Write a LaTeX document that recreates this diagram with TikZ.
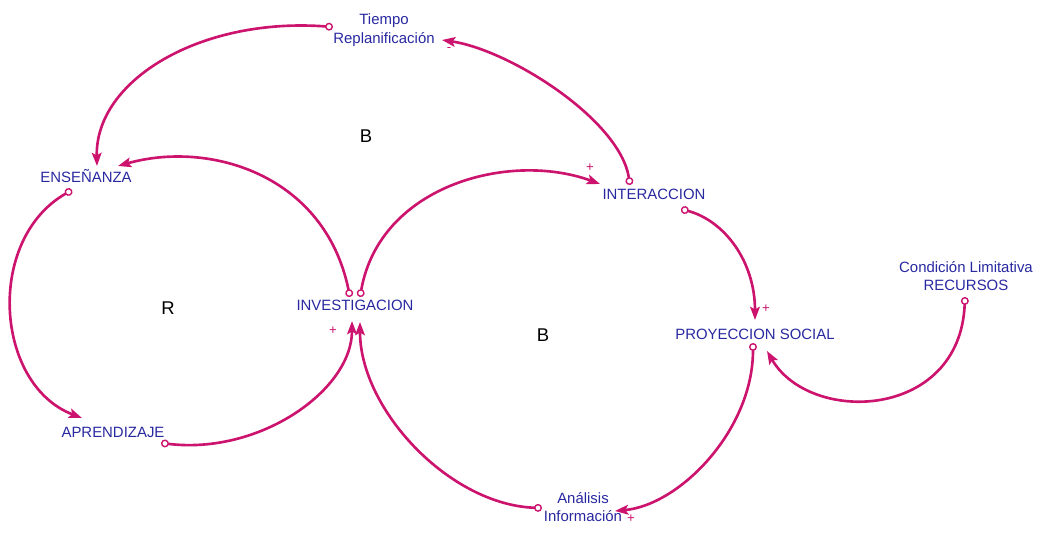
\documentclass[tikz,border=0pt]{standalone}
\usepackage{fontspec}
\setmainfont{Liberation Sans}
\usetikzlibrary{arrows.meta}
\definecolor{linkpink}{RGB}{204,20,110}
\definecolor{varblue}{RGB}{40,40,160}

\begin{document}
\begin{tikzpicture}[
  x=0.02cm, y=-0.02cm,
  font=\fontsize{8.5}{10.5}\selectfont,
  var/.style={text=varblue, align=center, inner sep=0pt},
  loopname/.style={font=\fontsize{10.5}{12}\selectfont, inner sep=0pt},
  sign/.style={text=linkpink, font=\fontsize{7.5}{8}\selectfont, inner sep=0pt},
  link/.style={draw=linkpink, line width=1.5pt,
    {Circle[open,length=4.5pt,width=4.5pt,line width=0.8pt]}-{Stealth[length=7.5pt,width=5.5pt,inset=1.5pt]}}
]
\path[use as bounding box] (0,0) rectangle (1042,533);

% variables
\node[var] (tr) at (384,30) {Tiempo\\Replanificación};
\node[var] (ens) at (86,176) {ENSEÑANZA};
\node[var] (inv) at (355,305) {INVESTIGACION};
\node[var] (int) at (654,194) {INTERACCION};
\node[var] (proy) at (755,334) {PROYECCION SOCIAL};
\node[var] (cond) at (966,276) {Condición Limitativa\\RECURSOS};
\node[var] (apr) at (113,432) {APRENDIZAJE};
\node[var] (ana) at (583,507) {Análisis\\Información};

% lazos
\node[loopname] (b1) at (366,136) {B};
\node[loopname] (r1) at (168,308) {R};
\node[loopname] (b2) at (543,335) {B};

% enlaces causales
\draw[link] ([shift={(-24,-9)}]int.center) .. controls +(-10,-65) and +(68,10) .. ([shift={(58,10)}]tr.center);
\draw[link] ([shift={(-51,-3)}]tr.center) .. controls +(-132,-10) and +(-2,-86) .. ([shift={(11,-10)}]ens.center);
\draw[link] ([shift={(-5,-8)}]inv.center) .. controls +(-25,-122) and +(92,-26) .. ([shift={(32,-10)}]ens.center);
\draw[link] ([shift={(-14,14)}]ens.center) .. controls +(-87,50) and +(-87,-33) .. ([shift={(-31,-14)}]apr.center);
\draw[link] ([shift={(48,11)}]apr.center) .. controls +(99,12) and +(0,69) .. ([shift={(-3,16)}]inv.center);
\draw[link] ([shift={(5,-8)}]inv.center) .. controls +(20,-112) and +(-90,-33) .. ([shift={(-54,-10)}]int.center);
\draw[link] ([shift={(27,15)}]int.center) .. controls +(44,12) and +(0,-58) .. ([shift={(0,-14)}]proy.center);
\draw[link] ([shift={(-2,9)}]proy.center) .. controls +(0,87) and +(65,-6) .. ([shift={(32,4)}]ana.center);
\draw[link] ([shift={(-41,1)}]ana.center) .. controls +(-92,-3) and +(0,88) .. ([shift={(5,17)}]inv.center);
\draw[link] ([shift={(-1,21)}]cond.center) .. controls +(-5,123) and +(43,74) .. ([shift={(12,17)}]proy.center);

% polaridades
\node[sign] (p1) at (449,49) {-};
\node[sign] (p2) at (590,168) {+};
\node[sign] (p3) at (333,331) {+};
\node[sign] (p4) at (766,309) {+};
\node[sign] (p5) at (631,519) {+};
\end{tikzpicture}
\end{document}
